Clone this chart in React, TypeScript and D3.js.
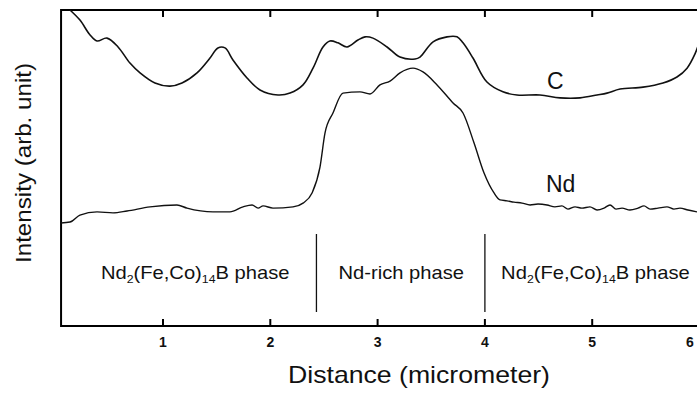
import React from "react";
import * as d3 from "d3";

// Distance (micrometer) and intensity (arb. unit)
const cX = [0.133, 0.226, 0.32, 0.385, 0.478, 0.581, 0.692, 0.786, 0.925, 1.065, 1.177, 1.317, 1.438, 1.512, 1.578, 1.652, 1.783, 1.904, 2.072, 2.184, 2.305, 2.398, 2.491, 2.556, 2.631, 2.715, 2.817, 2.883, 2.957, 3.088, 3.209, 3.349, 3.395, 3.517, 3.647, 3.74, 3.796, 3.889, 4.019, 4.168, 4.299, 4.513, 4.7, 4.887, 5.045, 5.138, 5.26, 5.474, 5.66, 5.79, 5.884, 5.958, 6.0];
const cY = [100, 96.8, 92.1, 90.2, 91.1, 88.3, 83.2, 80.1, 76.9, 75.9, 76.9, 80.1, 84.8, 88.0, 88.0, 84.2, 78.5, 74.7, 73.1, 73.7, 76.3, 81.6, 88.3, 90.2, 89.6, 88.3, 90.5, 91.5, 91.1, 88.3, 85.1, 84.5, 85.1, 89.9, 91.5, 91.5, 89.6, 84.8, 77.2, 74.1, 73.1, 73.1, 72.2, 72.2, 73.1, 73.7, 75.0, 75.6, 76.9, 78.8, 81.6, 86.1, 90];

const ndX = [0.04, 0.133, 0.226, 0.385, 0.534, 0.665, 0.879, 1.13, 1.224, 1.466, 1.624, 1.746, 1.83, 1.886, 1.933, 2.025, 2.212, 2.305, 2.389, 2.463, 2.51, 2.584, 2.677, 2.836, 2.929, 3.022, 3.116, 3.209, 3.33, 3.423, 3.554, 3.703, 3.796, 3.899, 3.992, 4.085, 4.141, 4.206, 4.271, 4.346, 4.421, 4.495, 4.579, 4.653, 4.718, 4.774, 4.84, 4.905, 4.979, 5.045, 5.11, 5.166, 5.222, 5.278, 5.352, 5.427, 5.483, 5.539, 5.613, 5.697, 5.762, 5.818, 5.893, 5.977];
const ndY = [32.6, 32.9, 35.1, 36.1, 35.8, 36.4, 37.7, 38.3, 37.3, 36.1, 36.1, 37.7, 38.3, 37.3, 38.0, 37.3, 37.7, 38.9, 42.1, 50.3, 61.1, 67.4, 73.7, 74.1, 73.4, 76.3, 77.5, 80.1, 81.6, 80.4, 76.3, 70.6, 67.4, 57.9, 48.4, 42.1, 39.9, 39.6, 39.2, 38.9, 38.3, 38.6, 38.3, 37.7, 38.0, 37.0, 37.7, 37.3, 37.7, 36.7, 37.3, 38.3, 37.0, 37.3, 36.7, 37.3, 38.0, 37.0, 37.3, 37.7, 37.0, 37.3, 36.7, 36.1];

const xTicks = [1, 2, 3, 4, 5, 6];
const dividers = [2.43, 4.0];
const phaseCenters = [1.3, 3.22, 5.03];

const W = 697;
const H = 394;

export default function App() {
  const x = d3.scaleLinear().domain([0, 6]).range([55.7, 699.5]);
  const y = d3.scaleLinear().domain([0, 100]).range([326, 10]);
  const left = x(0.05);
  const right = x(6);
  const top = y(100);
  const bottom = y(0);

  const line = d3
    .line<[number, number]>()
    .x((d) => x(d[0]))
    .y((d) => y(d[1]))
    .curve(d3.curveCatmullRom.alpha(0.5));
  const lineNd = d3
    .line<[number, number]>()
    .x((d) => x(d[0]))
    .y((d) => y(d[1]))
    .curve(d3.curveMonotoneX);

  const cData = cX.map((v, i) => [v, cY[i]] as [number, number]);
  const ndData = ndX.map((v, i) => [v, ndY[i]] as [number, number]);

  const font = "'Liberation Sans', Arial, Helvetica, sans-serif";
  const phaseY = 279;
  const sx = 1.12;

  const ndPhase = (cx: number) => (
    <g transform={`translate(${cx},${phaseY}) scale(${sx},1)`}>
      <text textAnchor="middle" fontSize={18} fontFamily={font} fill="#111">
        Nd
        <tspan fontSize={11} dy={4}>2</tspan>
        <tspan dy={-4}>(Fe,Co)</tspan>
        <tspan fontSize={11} dy={4}>14</tspan>
        <tspan dy={-4}>B phase</tspan>
      </text>
    </g>
  );

  const framePath = `M${right},${top}H${left}V${bottom}H${right}`;

  return (
    <svg
      width={W}
      height={H}
      style={{ position: "absolute", left: 0, top: 0, background: "#fff" }}
    >
      <defs>
        <clipPath id="plotClip">
          <rect x={left} y={top - 2} width={right - left} height={bottom - top + 2} />
        </clipPath>
      </defs>
      {/* frame */}
      <g stroke="#000" strokeWidth={2} fill="none">
        <path d={framePath} />
        {xTicks.map((t) => (
          <g key={t}>
            <line x1={x(t)} y1={top} x2={x(t)} y2={top + 7} />
            <line x1={x(t)} y1={bottom} x2={x(t)} y2={bottom - 7} />
          </g>
        ))}
      </g>
      {/* tick labels */}
      {xTicks.map((t) => (
        <text
          key={t}
          x={Math.min(x(t), 690)}
          y={347}
          textAnchor="middle"
          fontSize={14}
          fontWeight="bold"
          fontFamily={font}
          fill="#111"
        >
          {t}
        </text>
      ))}
      {/* curves */}
      <g clipPath="url(#plotClip)" fill="none" stroke="#111" strokeWidth={1.6}>
        <path d={line(cData) || ""} />
        <path d={lineNd(ndData) || ""} strokeWidth={1.4} />
      </g>
      {/* phase dividers */}
      {dividers.map((d) => (
        <line key={d} x1={x(d)} y1={234} x2={x(d)} y2={312} stroke="#111" strokeWidth={1.3} />
      ))}
      {ndPhase(x(phaseCenters[0]))}
      <g transform={`translate(${x(phaseCenters[1])},${phaseY}) scale(${sx},1)`}>
        <text textAnchor="middle" fontSize={18} fontFamily={font} fill="#111">
          Nd-rich phase
        </text>
      </g>
      {ndPhase(x(phaseCenters[2]))}
      {/* series labels */}
      <text x={547} y={89} fontSize={23} fontFamily={font} fill="#111">C</text>
      <text x={546} y={192} fontSize={23} fontFamily={font} fill="#111">Nd</text>
      {/* axis titles */}
      <text
        x={419}
        y={383}
        textAnchor="middle"
        fontSize={24}
        fontFamily={font}
        fill="#111"
        textLength={262}
        lengthAdjust="spacingAndGlyphs"
      >
        Distance (micrometer)
      </text>
      <text
        transform={`translate(31,163) rotate(-90)`}
        textAnchor="middle"
        fontSize={22}
        fontFamily={font}
        fill="#111"
        textLength={200}
        lengthAdjust="spacingAndGlyphs"
      >
        Intensity (arb. unit)
      </text>
    </svg>
  );
}
